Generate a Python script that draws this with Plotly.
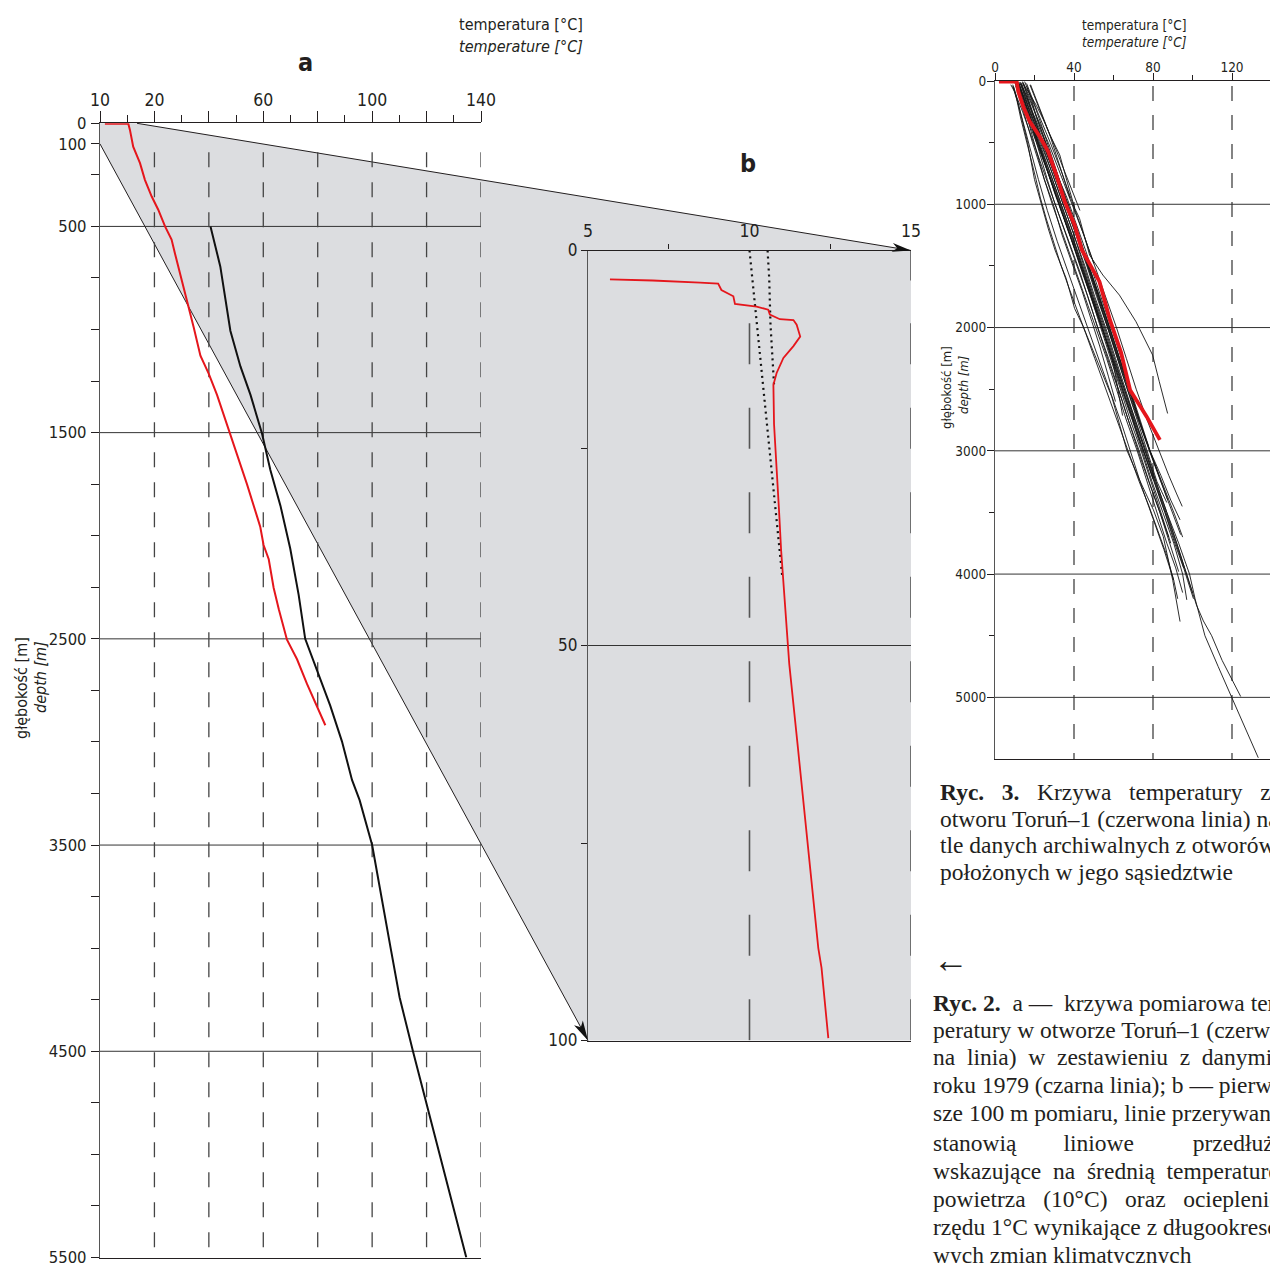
import plotly.graph_objects as go

W, H = 1270, 1263

# ---------------- data ----------------
# panel a: Toruń-1 measurement (red) and the 1979 log (black)  [temperature °C, depth m]
A_RED_T = [1.8, 10.4, 11.0, 12.2, 14.7, 16.5, 19.0, 21.4, 23.9, 26.3, 27.5, 29.5, 32.0, 34.4,
           36.9, 39.9, 43.0, 47.9, 51.0, 54.0, 57.7, 58.9, 60.1, 62.0, 63.8, 65.7, 68.7, 72.4,
           76.1, 79.7, 82.8]
A_RED_D = [2, 2, 32, 113, 193, 274, 355, 419, 500, 564, 629, 729, 867, 988, 1127, 1213, 1317,
           1508, 1629, 1750, 1906, 1958, 2045, 2114, 2252, 2356, 2504, 2599, 2720, 2824, 2919]
A_BLACK_T = [40.6, 44.2, 47.9, 51.6, 55.3, 59.5, 62.6, 66.3, 69.9, 73.0, 75.4, 79.7, 84.6,
             88.9, 92.6, 95.4, 100.0, 106.8, 110.1, 115.0, 119.9, 134.6]
A_BLACK_D = [500, 694, 1006, 1179, 1317, 1503, 1681, 1854, 2062, 2287, 2500, 2651, 2824, 2997,
             3184, 3282, 3500, 4000, 4239, 4500, 4750, 5500]

# panel b: first 100 m of the measurement, with the two linear extrapolations
B_RED_T = [5.68, 7.0, 8.47, 9.03, 9.13, 9.5, 9.55, 10.22, 10.58, 10.63, 10.94, 11.36, 11.46,
           11.57, 11.36, 11.05, 10.84, 10.74, 10.76, 10.84, 10.91, 10.98, 11.1, 11.2, 11.23,
           11.5, 11.82, 12.13, 12.23, 12.34, 12.44]
B_RED_D = [3.65, 3.8, 4.07, 4.2, 5.0, 5.8, 6.75, 7.1, 7.5, 8.1, 8.7, 8.8, 9.4, 10.9, 12.1, 13.6,
           15.5, 17.0, 22.0, 27.1, 32.6, 38.0, 45.2, 50.0, 52.3, 63.0, 75.7, 88.3, 90.8, 95.9, 99.7]
B_EXTRAP_10_T = [10.0, 10.43, 11.02]
B_EXTRAP_10_D = [0.0, 17.4, 41.5]
B_EXTRAP_11_T = [10.56, 10.61, 10.65, 10.72, 10.76]
B_EXTRAP_11_D = [0.0, 3.5, 9.4, 14.5, 17.0]

# panel c (Ryc. 3): Toruń-1 (red) against archival boreholes (black)
C_RED_T = [2.0, 11.0, 11.8, 14.3, 17.6, 22.7, 26.9, 31.1, 35.3, 40.3, 44.0, 52.9, 58.2, 63.8,
           68.4, 76.8, 83.5]
C_RED_D = [5, 5, 87, 208, 330, 452, 573, 763, 979, 1168, 1371, 1628, 1938, 2200, 2506, 2723, 2911]

C_WELL_01_T = [8, 10, 12, 14, 16.5, 20, 23.5, 27, 30.4, 36, 40.3, 44.7, 52, 59.1, 66.7, 73, 80.2, 85.2, 90, 93.7]
C_WELL_01_D = [30, 90, 200, 330, 500, 800, 1000, 1200, 1371, 1600, 1845, 1993, 2280, 2560, 2993, 3230, 3479, 3696, 4050, 4385]
C_WELL_02_T = [17.7, 20, 22.7, 25, 27.8, 32.8, 37, 40.4, 42.8, 47.9, 54.6, 63, 71.4, 76.4, 79.8, 83.2, 87.4]
C_WELL_02_D = [32, 130, 249, 330, 438, 600, 844, 1033, 1114, 1412, 1574, 1737, 1953, 2115, 2223, 2440, 2697]
C_WELL_03_T = [12, 14, 17, 22, 28, 33.5, 39, 44.5, 49.5, 55, 60, 65.5, 71, 76, 81.5, 87, 93, 98.5,
               101.3, 106.3, 113, 119.8, 126.5, 133.3]
C_WELL_03_D = [20, 110, 250, 500, 750, 1000, 1250, 1500, 1750, 2000, 2250, 2500, 2750, 3000, 3250,
               3500, 3750, 4000, 4200, 4500, 4750, 5000, 5250, 5490]
C_WELL_04_T = [13, 15, 18, 23.5, 29, 34.5, 40, 45, 50, 55.5, 60.5, 65.5, 70.5, 76, 81, 86.5, 92, 97,
               102, 105.5, 109.7, 115, 120, 124.4]
C_WELL_04_D = [10, 120, 250, 500, 750, 1000, 1250, 1500, 1750, 2000, 2250, 2500, 2750, 3000, 3250,
               3500, 3750, 4000, 4250, 4380, 4500, 4700, 4850, 4993]
C_WELL_05_T = [11, 13, 16, 21.5, 27, 32.5, 38, 43, 48.5, 54, 59, 64, 69.5, 74.5, 79.5, 85, 90.5, 95, 97.1]
C_WELL_05_D = [30, 120, 250, 500, 750, 1000, 1250, 1500, 1750, 2000, 2250, 2500, 2750, 3000, 3250,
               3500, 3750, 4000, 4209]
C_WELL_06_T = [14, 16.5, 20, 27, 33, 39, 45, 50.5, 56, 61.5, 66.5, 71.5, 77, 83, 88, 92, 94.8]
C_WELL_06_D = [10, 110, 250, 500, 750, 1000, 1250, 1500, 1750, 2000, 2250, 2500, 2750, 3000, 3200, 3350, 3451]
C_WELL_07_T = [12, 15, 18, 24, 30, 36, 41.5, 47, 52.5, 57.5, 62.5, 68, 73, 78.5, 84, 89, 93.7]
C_WELL_07_D = [20, 140, 250, 500, 750, 1000, 1250, 1500, 1750, 2000, 2250, 2500, 2750, 3000, 3200, 3400, 3560]
C_WELL_08_T = [12, 14.5, 17, 22.5, 28, 33.5, 39, 44, 49.5, 54.5, 60, 64.6]
C_WELL_08_D = [20, 150, 250, 500, 750, 1000, 1250, 1500, 1750, 2000, 2300, 2714]
C_WELL_09_T = [10, 12, 15, 21, 27, 32.5, 38, 43.5, 48.5, 53.5, 58.5, 63.5, 68.5, 74, 79, 84, 89]
C_WELL_09_D = [10, 100, 250, 500, 750, 1000, 1250, 1500, 1750, 2000, 2250, 2500, 2750, 3000, 3250, 3500, 3750]
C_WELL_10_T = [13, 15.5, 18.5, 24, 30, 35.5, 41, 46.5, 51.5, 57, 62, 67, 72, 77, 82, 87]
C_WELL_10_D = [15, 120, 250, 500, 750, 1000, 1250, 1500, 1750, 2000, 2250, 2500, 2750, 3000, 3250, 3420]
C_WELL_11_T = [11, 13.5, 16, 22, 27.5, 33, 38.5, 44, 49, 54, 59.5, 64.5, 70, 75, 80.5, 86, 91, 95.5]
C_WELL_11_D = [20, 130, 250, 500, 750, 1000, 1250, 1500, 1750, 2000, 2250, 2500, 2750, 3000, 3250, 3500, 3750, 3950]
C_WELL_12_T = [14, 16, 19, 25.5, 31.5, 37, 42.5, 47.5, 53, 58, 63, 68.5, 73.5, 78.5, 83]
C_WELL_12_D = [5, 100, 250, 500, 750, 1000, 1250, 1500, 1750, 2000, 2250, 2500, 2750, 3000, 3200]
C_WELL_13_T = [9, 11, 14, 19.5, 25, 30.5, 36, 41.5, 47, 52, 57.5, 62.5, 67.5, 73, 78, 83.5, 88.5, 93]
C_WELL_13_D = [30, 130, 250, 500, 750, 1000, 1250, 1500, 1750, 2000, 2250, 2500, 2750, 3000, 3250, 3500, 3750, 3980]
C_WELL_14_T = [12.5, 15, 17.5, 23, 29, 34.5, 40, 45.5, 50.5, 56, 61, 66, 71, 76.5, 81.5, 87, 92, 97, 100]
C_WELL_14_D = [10, 120, 250, 500, 750, 1000, 1250, 1500, 1750, 2000, 2250, 2500, 2750, 3000, 3250, 3500, 3750, 4000, 4150]
C_WELL_15_T = [16, 18.5, 21.5, 28, 34, 39.5, 45, 50]
C_WELL_15_D = [20, 130, 250, 500, 750, 1000, 1250, 1480]
C_WELL_16_T = [10.5, 12.5, 14.5, 19, 24, 29, 34.5, 40, 45.5, 51, 56.5, 61.5, 66.5, 72, 77, 82, 87, 91.5, 95]
C_WELL_16_D = [40, 140, 250, 500, 750, 1000, 1250, 1500, 1750, 2000, 2250, 2500, 2750, 3000, 3250, 3500, 3750, 3950, 4150]
C_WELL_17_T = [9.5, 11.5, 13.5, 17.5, 22, 26.5, 31.5, 37, 42.5, 48, 53.5, 59, 64.5, 69.5, 74.5, 80, 85.5, 90.5]
C_WELL_17_D = [50, 170, 300, 550, 800, 1050, 1300, 1550, 1800, 2050, 2300, 2550, 2800, 3050, 3300, 3550, 3800, 4050]
C_WELL_18_T = [13.5, 16, 19, 24.5, 30.5, 36, 41.5, 47, 52, 57, 62, 67, 72.5, 77.5]
C_WELL_18_D = [20, 130, 250, 500, 750, 1000, 1250, 1500, 1750, 2000, 2250, 2500, 2750, 2950]
C_WELL_19_T = [11, 13, 15.5, 18, 21.5, 25, 29.5, 34, 39.5, 44, 49, 53, 57.5, 61]
C_WELL_19_D = [15, 100, 250, 400, 600, 800, 1000, 1250, 1500, 1700, 1950, 2150, 2400, 2600]
C_WELL_20_T = [15, 17, 20.5, 24, 27, 30.5, 34.5, 38, 43, 47.5, 52.5, 57, 62, 66, 71, 75, 79.5, 84, 87.5]
C_WELL_20_D = [5, 80, 220, 380, 520, 700, 900, 1050, 1300, 1500, 1750, 1950, 2200, 2400, 2650, 2850, 3050, 3250, 3400]
C_WELL_21_T = [12, 14, 17, 20, 23, 26.5, 30, 34, 38.5, 43, 48, 53, 58, 63.5, 68.5, 73.5, 79, 84, 88]
C_WELL_21_D = [30, 120, 280, 450, 620, 800, 980, 1150, 1350, 1550, 1800, 2050, 2300, 2550, 2800, 3050, 3300, 3520, 3700]
C_WELL_22_T = [16, 18.5, 21, 24, 28, 32, 36.5, 41, 46, 50.5, 55, 60, 65]
C_WELL_22_D = [40, 150, 300, 420, 600, 780, 950, 1150, 1380, 1600, 1820, 2050, 2300]
C_WELL_23_T = [10, 12.5, 14, 16, 19, 22, 25.5, 29, 33, 37.5, 42, 47, 52, 56.5, 61.5, 66, 71, 76, 80]
C_WELL_23_D = [0, 60, 150, 260, 380, 520, 680, 850, 1030, 1230, 1430, 1660, 1880, 2100, 2330, 2550, 2800, 3050, 3230]
C_WELL_24_T = [14.5, 17.5, 20, 23.5, 27.5, 31, 35, 39.5, 44, 48, 53, 58, 62.5, 67.5, 72, 77, 82, 87, 91, 95]
C_WELL_24_D = [20, 130, 240, 400, 590, 760, 940, 1130, 1330, 1520, 1760, 2000, 2220, 2460, 2700, 2940, 3150, 3350, 3520, 3700]
C_WELL_25_T = [12, 15, 18.5, 22, 26, 30, 34.5, 38, 42.5, 47.5, 52.5, 57, 62, 67, 72, 77.5, 82.5, 88, 93, 97.5, 100.5]
C_WELL_25_D = [10, 150, 330, 500, 700, 900, 1100, 1260, 1450, 1680, 1920, 2140, 2380, 2620, 2860, 3100, 3330, 3580, 3820, 4050, 4200]
C_WELL_26_T = [9, 11, 13, 15.5, 18, 20.5, 23, 26, 29.5, 33.5, 37.5, 41.5, 46, 50.5, 55, 59.5, 64, 68.5, 73, 78, 82.5, 87, 90.5, 92.5]
C_WELL_26_D = [40, 150, 300, 450, 620, 780, 950, 1120, 1300, 1500, 1680, 1850, 2050, 2250, 2450, 2650, 2850, 3050, 3250, 3450, 3650, 3850, 4050, 4200]
C_WELL_27_T = [13, 16, 19, 23, 26.5, 30, 34, 37.5, 41.5, 46, 51, 56, 61, 66, 70.5, 75, 80, 85, 90, 94]
C_WELL_27_D = [25, 120, 260, 430, 590, 760, 930, 1080, 1260, 1460, 1700, 1940, 2180, 2420, 2640, 2860, 3080, 3290, 3500, 3680]
C_WELL_28_T = [18, 21, 24.5, 28, 31.5, 35, 38]
C_WELL_28_D = [30, 150, 300, 450, 620, 800, 950]
C_WELL_29_T = [14, 17, 21, 25, 29, 33, 37, 40.5, 43]
C_WELL_29_D = [20, 90, 200, 330, 480, 640, 800, 950, 1050]

C_WELLS = [
    (C_WELL_01_T, C_WELL_01_D), (C_WELL_02_T, C_WELL_02_D), (C_WELL_03_T, C_WELL_03_D),
    (C_WELL_04_T, C_WELL_04_D), (C_WELL_05_T, C_WELL_05_D), (C_WELL_06_T, C_WELL_06_D),
    (C_WELL_07_T, C_WELL_07_D), (C_WELL_08_T, C_WELL_08_D), (C_WELL_09_T, C_WELL_09_D),
    (C_WELL_10_T, C_WELL_10_D), (C_WELL_11_T, C_WELL_11_D), (C_WELL_12_T, C_WELL_12_D),
    (C_WELL_13_T, C_WELL_13_D), (C_WELL_14_T, C_WELL_14_D), (C_WELL_15_T, C_WELL_15_D),
    (C_WELL_16_T, C_WELL_16_D), (C_WELL_17_T, C_WELL_17_D), (C_WELL_18_T, C_WELL_18_D),
    (C_WELL_19_T, C_WELL_19_D), (C_WELL_20_T, C_WELL_20_D), (C_WELL_21_T, C_WELL_21_D),
    (C_WELL_22_T, C_WELL_22_D), (C_WELL_23_T, C_WELL_23_D), (C_WELL_24_T, C_WELL_24_D),
    (C_WELL_25_T, C_WELL_25_D), (C_WELL_26_T, C_WELL_26_D), (C_WELL_27_T, C_WELL_27_D),
    (C_WELL_28_T, C_WELL_28_D), (C_WELL_29_T, C_WELL_29_D),
]

# ticks / grids
A_X_TICKVALS = [0, 20, 40, 60, 80, 100, 120, 140]
A_X_TICKTEXT = ["10", "20", "", "60", "", "100", "", "140"]
A_X_MINOR = [10, 30, 50, 70, 90, 110, 130]
A_Y_TICKVALS = [0, 100, 500, 1500, 2500, 3500, 4500, 5500]
A_Y_MINOR = [250, 750, 1000, 1250, 1750, 2000, 2250, 2750, 3000, 3250, 3750, 4000, 4250, 4750, 5000, 5250]
A_HGRID = [500, 1500, 2500, 3500, 4500]
A_VGRID = [20, 40, 60, 80, 100, 120, 140]

B_X_TICKVALS = [5, 10, 15]
B_X_MINOR = [7.5, 12.5]
B_Y_TICKVALS = [0, 50, 100]
B_Y_MINOR = [25, 75]
B_HGRID = [50]

C_X_TICKVALS = [0, 40, 80, 120]
C_X_MINOR = [20, 60, 100]
C_Y_TICKVALS = [0, 1000, 2000, 3000, 4000, 5000]
C_Y_MINOR = [500, 1500, 2500, 3500, 4500]
C_HGRID = [1000, 2000, 3000, 4000, 5000]
C_VGRID = [40, 80, 120]

# ---------------- geometry ----------------
PANEL_A = dict(x0=100, x1=481, y0=123.3, y1=1257.5, xr=(0, 140), yr=(0, 5500))
PANEL_B = dict(x0=588, x1=911, y0=250.5, y1=1040.5, xr=(5, 15), yr=(0, 100))
PANEL_C = dict(x0=995, x1=1270, y0=81, y1=759, xr=(0, 139.24), yr=(0, 5500))

SANS = "Liberation Sans Narrow, Arial Narrow, DejaVu Sans Condensed, Roboto Condensed, Liberation Sans, sans-serif"
SERIF = "Liberation Serif, Times New Roman, DejaVu Serif, serif"
TXT = "#231f20"
AX = "#231f20"
RED = "#e5161c"
GRAY = "#dcdde0"


def to_px(p, t, d):
    x = p["x0"] + (t - p["xr"][0]) / (p["xr"][1] - p["xr"][0]) * (p["x1"] - p["x0"])
    y = p["y0"] + (d - p["yr"][0]) / (p["yr"][1] - p["yr"][0]) * (p["y1"] - p["y0"])
    return x, y


def paper(x, y):
    return x / W, 1 - y / H


def dom_x(p):
    return [p["x0"] / W, min(1.0, p["x1"] / W)]


def dom_y(p):
    return [1 - p["y1"] / H, 1 - p["y0"] / H]


fig = go.Figure()

# ---------------- traces ----------------
fig.add_trace(go.Scatter(x=A_BLACK_T, y=A_BLACK_D, xaxis="x", yaxis="y", mode="lines",
                         line=dict(color="#111111", width=2)))
fig.add_trace(go.Scatter(x=A_RED_T, y=A_RED_D, xaxis="x", yaxis="y", mode="lines",
                         line=dict(color=RED, width=2)))

fig.add_trace(go.Scatter(x=B_EXTRAP_10_T, y=B_EXTRAP_10_D, xaxis="x2", yaxis="y2", mode="lines",
                         line=dict(color="#111111", width=2.2, dash="2px,4px")))
fig.add_trace(go.Scatter(x=B_EXTRAP_11_T, y=B_EXTRAP_11_D, xaxis="x2", yaxis="y2", mode="lines",
                         line=dict(color="#111111", width=2.2, dash="2px,4px")))
fig.add_trace(go.Scatter(x=B_RED_T, y=B_RED_D, xaxis="x2", yaxis="y2", mode="lines",
                         line=dict(color=RED, width=1.8)))

for wt, wd in C_WELLS:
    fig.add_trace(go.Scatter(x=wt, y=wd, xaxis="x3", yaxis="y3", mode="lines",
                             line=dict(color="#151515", width=0.9)))
fig.add_trace(go.Scatter(x=C_RED_T, y=C_RED_D, xaxis="x3", yaxis="y3", mode="lines",
                         line=dict(color=RED, width=3.8)))

# ---------------- shapes ----------------
shapes = []

# grey zoom wedge linking panel a to panel b
P1 = to_px(PANEL_A, 13.6, 0)
P2 = to_px(PANEL_B, 15, 0)
P3 = to_px(PANEL_B, 15, 100)
P4 = to_px(PANEL_B, 5, 100)
P5 = to_px(PANEL_A, 0, 100)
P6 = to_px(PANEL_A, 0, 0)
poly = [P1, P2, P3, P4, P5, P6]
path = "M " + " L ".join("%.5f,%.5f" % paper(*pt) for pt in poly) + " Z"
shapes.append(dict(type="path", path=path, xref="paper", yref="paper", fillcolor=GRAY,
                   line=dict(width=0), layer="below"))


def seg(a, b, width=1.0, color="#231f20"):
    xa, ya = paper(*a)
    xb, yb = paper(*b)
    return dict(type="line", xref="paper", yref="paper", x0=xa, y0=ya, x1=xb, y1=yb,
                line=dict(color=color, width=width), layer="below")


def arrowhead(tail, tip, L=20, w=5, notch=5):
    dx, dy = tip[0] - tail[0], tip[1] - tail[1]
    n = (dx * dx + dy * dy) ** 0.5
    ux, uy = dx / n, dy / n
    nx, ny = -uy, ux
    pts = [tip,
           (tip[0] - L * ux + w * nx, tip[1] - L * uy + w * ny),
           (tip[0] - (L - notch) * ux, tip[1] - (L - notch) * uy),
           (tip[0] - L * ux - w * nx, tip[1] - L * uy - w * ny)]
    pth = "M " + " L ".join("%.5f,%.5f" % paper(*pt) for pt in pts) + " Z"
    return dict(type="path", path=pth, xref="paper", yref="paper", fillcolor="#111111",
                line=dict(width=0), layer="above")


shapes.append(seg(P1, P2))
shapes.append(seg(P5, P4))
shapes.append(arrowhead(P1, P2, L=19, w=4.5))
shapes.append(arrowhead(P5, P4, L=20, w=5))

# panel a grids
for d in A_HGRID:
    shapes.append(dict(type="line", xref="x", yref="y", x0=0, x1=140, y0=d, y1=d,
                       line=dict(color="#333333", width=1), layer="below"))
for t in A_VGRID:
    shapes.append(dict(type="line", xref="x", yref="y", x0=t, x1=t, y0=140, y1=5500,
                       line=dict(color="#444444", width=1.3, dash="15px,15px"), layer="below"))

# panel b grids
for d in B_HGRID:
    shapes.append(dict(type="line", xref="x2", yref="y2", x0=5, x1=15, y0=d, y1=d,
                       line=dict(color="#333333", width=1), layer="below"))
for t in [10, 15]:
    shapes.append(dict(type="line", xref="x2", yref="y2", x0=t, x1=t, y0=9.2, y1=100,
                       line=dict(color="#555555", width=1.6, dash="41px,43.5px"), layer="below"))
shapes.append(dict(type="line", xref="x2", yref="y2", x0=15, x1=15, y0=0, y1=3.8,
                   line=dict(color="#555555", width=1.6), layer="below"))

# panel c grids
for d in C_HGRID:
    shapes.append(dict(type="line", xref="x3 domain", yref="y3", x0=0, x1=1, y0=d, y1=d,
                       line=dict(color="#333333", width=1), layer="below"))
for t in C_VGRID:
    shapes.append(dict(type="line", xref="x3", yref="y3", x0=t, x1=t, y0=40, y1=5500,
                       line=dict(color="#333333", width=1.2, dash="15px,14px"), layer="below"))

# ---------------- annotations ----------------
ann = []


def text(t, px, py, size, family=SANS, xanchor="center", yanchor="middle", angle=0, color=TXT):
    x, y = paper(px, py)
    ann.append(dict(text=t, x=x, y=y, xref="paper", yref="paper", showarrow=False,
                    xanchor=xanchor, yanchor=yanchor, textangle=angle,
                    font=dict(family=family, size=size, color=color)))


text("temperatura [°C]", 521, 25, 16)
text("<i>temperature [°C]</i>", 521, 47, 16)
text("<b>a</b>", 305, 62, 25)
text("<b>b</b>", 748, 163, 25)
text("głębokość [m]", 21, 688, 16, angle=-90)
text("<i>depth [m]</i>", 40, 677, 16, angle=-90)

text("temperatura [°C]", 1134, 25, 13.5)
text("<i>temperature [°C]</i>", 1134, 42, 13.5)
text("głębokość [m]", 946, 388, 13, angle=-90)
text("<i>depth [m]</i>", 963, 385, 13, angle=-90)

NB = "\u00a0"
CAP3 = [
    "<b>Ryc." + NB * 3 + "3.</b>" + NB * 3 + "Krzywa" + NB * 3 + "temperatury" + NB * 3 + "z",
    "otworu Toruń–1 (czerwona linia) na",
    "tle danych archiwalnych z otworów",
    "położonych w jego sąsiedztwie",
]
CAP3_Y = [792, 819, 845, 872]
for line, y in zip(CAP3, CAP3_Y):
    text(line, 938, y, 23.5, family=SERIF, xanchor="left")

text("←", 931, 960, 36, family=SERIF, xanchor="left")

CAP2 = [
    "<b>Ryc. 2.</b>" + NB + " a —" + NB + " krzywa pomiarowa tem-",
    "peratury w otworze Toruń–1 (czerwo-",
    "na" + NB + " linia)" + NB + " w" + NB + " zestawieniu" + NB + " z" + NB + " danymi" + NB + " z",
    "roku 1979 (czarna linia); b — pierw-",
    "sze 100 m pomiaru, linie przerywane",
    "stanowią" + NB * 8 + "liniowe" + NB * 10 + "przedłużenie",
    "wskazujące" + NB + " na" + NB + " średnią" + NB + " temperaturę",
    "powietrza" + NB * 3 + "(10°C)" + NB * 3 + "oraz" + NB * 3 + "ocieplenie",
    "rzędu 1°C wynikające z długookreso-",
    "wych zmian klimatycznych",
]
CAP2_Y = [1003, 1030, 1057, 1085, 1113, 1143, 1171, 1199, 1227, 1255]
for line, y in zip(CAP2, CAP2_Y):
    text(line, 931, y, 23.5, family=SERIF, xanchor="left")

# ---------------- axes ----------------
def xax(p, tickvals, ticktext, minor, size, ticklen, minorlen, anchor, standoff):
    return dict(domain=dom_x(p), range=list(p["xr"]), side="top", anchor=anchor,
                automargin=False, ticklabeloverflow="allow",
                showline=True, linecolor=AX, linewidth=1.3, mirror=True,
                showgrid=False, zeroline=False,
                tickmode="array", tickvals=tickvals, ticktext=ticktext,
                ticks="outside" if ticklen else "", ticklen=ticklen, tickcolor=AX, tickwidth=1,
                ticklabelstandoff=standoff,
                minor=dict(tickmode="array", tickvals=minor, ticks="outside", ticklen=minorlen,
                           tickcolor=AX, tickwidth=1, showgrid=False),
                tickfont=dict(family=SANS, size=size, color=TXT))


def yax(p, tickvals, minor, size, ticklen, minorlen, anchor, standoff):
    return dict(domain=dom_y(p), range=[p["yr"][1], p["yr"][0]], anchor=anchor,
                automargin=False, ticklabeloverflow="allow",
                showline=True, linecolor="#555555", linewidth=1.3, mirror=False,
                showgrid=False, zeroline=False,
                tickmode="array", tickvals=tickvals, ticktext=[str(v) for v in tickvals],
                ticks="outside", ticklen=ticklen, tickcolor=AX, tickwidth=1,
                ticklabelstandoff=standoff,
                minor=dict(tickmode="array", tickvals=minor, ticks="outside", ticklen=minorlen,
                           tickcolor=AX, tickwidth=1, showgrid=False),
                tickfont=dict(family=SANS, size=size, color=TXT))


fig.update_layout(
    width=W, height=H, margin=dict(l=0, r=0, t=0, b=0, autoexpand=False), autosize=False,
    paper_bgcolor="white", plot_bgcolor="rgba(0,0,0,0)", showlegend=False,
    xaxis=xax(PANEL_A, A_X_TICKVALS, A_X_TICKTEXT, A_X_MINOR, 17.5, 11, 7, "y", -2),
    yaxis=yax(PANEL_A, A_Y_TICKVALS, A_Y_MINOR, 16.5, 8, 8, "x", 1),
    xaxis2=xax(PANEL_B, B_X_TICKVALS, [str(v) for v in B_X_TICKVALS], B_X_MINOR, 17.5, 0, 5, "y2", 5),
    yaxis2=yax(PANEL_B, B_Y_TICKVALS, B_Y_MINOR, 17, 6, 6, "x2", 0),
    xaxis3=xax(PANEL_C, C_X_TICKVALS, [str(v) for v in C_X_TICKVALS], C_X_MINOR, 13.5, 7, 5, "y3", -5),
    yaxis3=yax(PANEL_C, C_Y_TICKVALS, C_Y_MINOR, 13.5, 7, 5, "x3", -2),
    shapes=shapes, annotations=ann,
)

fig.write_html(
    "out.html",
    config={"displayModeBar": False},
    post_script=("document.documentElement.style.margin='0';document.body.style.margin='0';"
                 "document.documentElement.style.overflow='hidden';document.body.style.overflow='hidden';"),
)
